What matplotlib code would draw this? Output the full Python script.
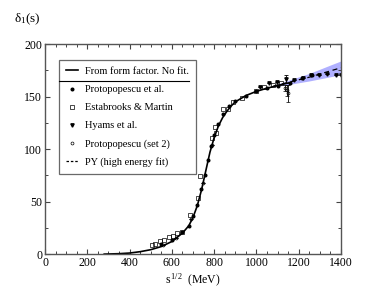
import numpy as np
import matplotlib
matplotlib.use("Agg")
import matplotlib.pyplot as plt
from matplotlib.lines import Line2D

plt.rcParams['font.family'] = ['Liberation Serif', 'DejaVu Serif']
plt.rcParams['mathtext.fontset'] = 'custom'
plt.rcParams['mathtext.rm'] = 'Liberation Serif'
plt.rcParams['mathtext.it'] = 'Liberation Serif:italic'

# form factor curve (no fit)
ff_x = [280, 300, 350, 400, 450, 500, 550, 600, 650, 680, 700, 720, 740, 760, 780,
        800, 820, 840, 860, 880, 900, 950, 1000, 1050, 1100, 1150]
ff_y = [0, 0.1, 0.4, 1.0, 2.3, 4.2, 7.2, 12, 20, 27, 35, 46, 61, 79, 97,
        111, 122, 130, 136, 141, 145, 151, 155, 158, 160.5, 163]

# PY high energy fit with band
py_x = [1080, 1150, 1200, 1250, 1300, 1350, 1400]
py_y = [160, 163.5, 166, 168.5, 171.5, 174.5, 177.5]
py_err = [0.8, 2.0, 2.8, 3.6, 4.6, 5.6, 6.5]

# Protopopescu et al.
pro_x = [550, 600, 650, 680, 700, 720, 740, 755, 770, 785, 800, 820, 840, 870,
         900, 950, 1000, 1050, 1100, 1160, 1214, 1262]
pro_y = [10, 13, 21, 27, 36, 47, 62, 75, 90, 103, 113, 124, 133, 141,
         146, 151, 155, 158, 160, 163, 168, 171]

# Estabrooks & Martin
em_x = [505, 520, 544, 563, 584, 607, 626, 646, 686, 725, 733, 788, 804, 809,
        843, 867, 891, 930, 998, 1036, 1080, 1115]
em_y = [8.6, 9.2, 12.4, 13.3, 16.5, 17.5, 19.7, 21, 37, 53, 74, 111, 121, 115,
        138, 138, 145, 149, 155.5, 159, 161, 163]

# Hyams et al.
hy_x = [1017, 1061, 1099, 1140, 1178, 1219, 1256, 1298, 1335, 1376, 1398]
hy_y = [159, 162.5, 164, 167, 165.7, 168, 171, 170.5, 172, 170.5, 171]
hy_err = [0, 0, 0, 4, 0, 0, 0, 0, 0, 0, 0]

# Protopopescu (set 2)
p2_x = [560, 620, 690, 745, 790, 1135, 1146, 1151]
p2_y = [9, 15, 33, 68, 104, 158, 156, 153]
p2_err = [0, 0, 0, 0, 0, 3, 5, 8]

fig = plt.figure(figsize=(3.88, 3.0), dpi=100)
ax = fig.add_axes([0.116, 0.153, 0.763, 0.70])

ax.fill_between(py_x, np.array(py_y) - np.array(py_err), np.array(py_y) + np.array(py_err),
                color='#a8a8ff', alpha=0.9, lw=0)
ax.plot(ff_x, ff_y, color='black', lw=1.2)
ax.plot(py_x, py_y, color='black', lw=0.9, ls=(0, (4, 3)))

ms = 1.9
ax.plot(pro_x, pro_y, 'o', color='black', ms=ms)
ax.plot(em_x, em_y, 's', mfc='none', mec='black', ms=ms + 0.5, mew=0.5)
ax.errorbar(hy_x, hy_y, yerr=hy_err, fmt='v', color='black', ms=ms + 0.5,
            elinewidth=0.6, capsize=1.5, capthick=0.6)
ax.errorbar(p2_x, p2_y, yerr=p2_err, fmt='o', mfc='none', mec='black', ecolor='black',
            ms=ms + 0.2, mew=0.5, elinewidth=0.6, capsize=1.5, capthick=0.6)

ax.set_xlim(0, 1400)
ax.set_ylim(0, 200)
ax.set_xticks(np.arange(0, 1401, 200))
ax.set_xticks(np.arange(0, 1401, 50), minor=True)
ax.set_yticks(np.arange(0, 201, 50))
ax.set_yticks(np.arange(0, 201, 25), minor=True)
ax.tick_params(which='both', direction='in', top=True, right=True, labelsize=8.5,
               color='#444444', pad=2)
ax.tick_params(which='major', length=3.5, width=0.8)
ax.tick_params(which='minor', length=2, width=0.7)
for s in ax.spines.values():
    s.set_color('#555555')
    s.set_linewidth(1.0)

ax.set_xlabel('s$^{\\,1/2}$  (MeV)', fontsize=8.5, labelpad=2)
fig.text(0.035, 0.925, 'δ$_1$(s)', fontsize=9.5)

handles = [
    Line2D([], [], color='black', lw=1.2),
    Line2D([], [], marker='o', ls='none', color='black', ms=ms),
    Line2D([], [], marker='s', ls='none', mfc='none', mec='black', ms=ms + 0.5, mew=0.5),
    Line2D([], [], marker='v', ls='none', color='black', ms=ms + 0.5),
    Line2D([], [], marker='o', ls='none', mfc='none', mec='black', ms=ms + 0.2, mew=0.5),
    Line2D([], [], color='black', lw=0.9, ls=(0, (2, 1.5))),
]
labels = ['From form factor. No fit.', 'Protopopescu et al.', 'Estabrooks & Martin',
          'Hyams et al.', 'Protopopescu (set 2)', 'PY (high energy fit)']
leg = ax.legend(handles, labels, loc='upper left', bbox_to_anchor=(0.047, 0.924),
                fontsize=7.5, frameon=True, fancybox=False, edgecolor='#444444',
                handlelength=1.2, handletextpad=0.7, labelspacing=0.84,
                borderpad=0.65, borderaxespad=0)
leg.get_frame().set_linewidth(0.9)

# separator line under the first legend entry
fig.canvas.draw()
r = fig.canvas.get_renderer()
fb = leg.get_frame().get_window_extent(r)
t0 = leg.get_texts()[0].get_window_extent(r)
t1 = leg.get_texts()[1].get_window_extent(r)
ysep = (t0.y0 + t1.y1) / 2
W, H = fig.get_size_inches() * fig.dpi
fig.add_artist(Line2D([fb.x0 / W, t0.x1 / W], [ysep / H, ysep / H],
                      transform=fig.transFigure, color='black', lw=0.8))

fig.savefig('out.png', dpi=100)
